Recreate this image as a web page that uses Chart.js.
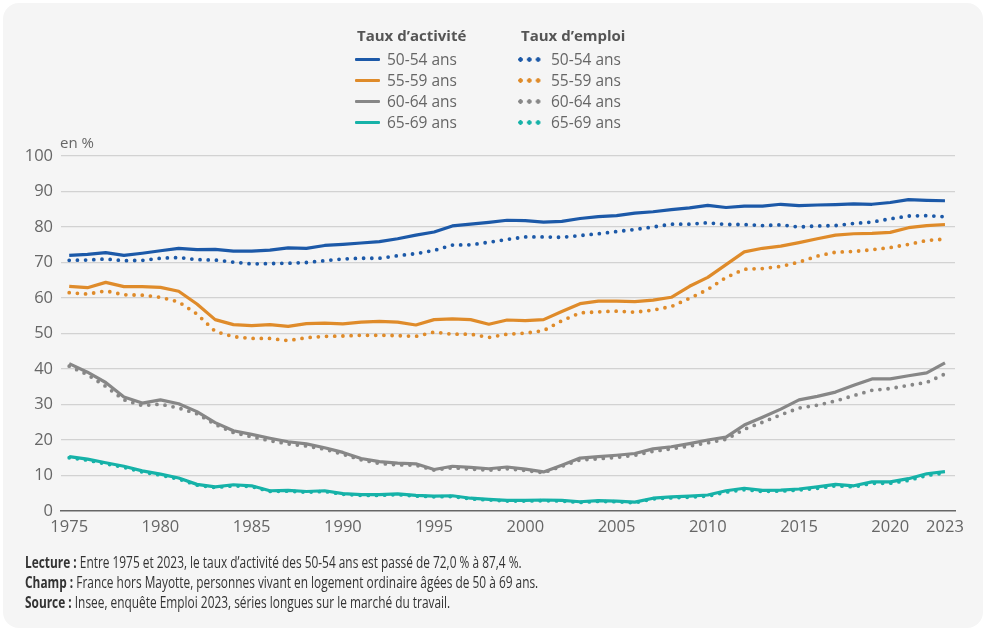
<!DOCTYPE html>
<html lang="fr">
<head>
<meta charset="utf-8">
<script src="https://cdn.jsdelivr.net/npm/chart.js@4"></script>
<style>
    html, body { margin: 0; padding: 0; background: #fff; }
    body { width: 986px; height: 631px; position: relative; overflow: hidden; font-family: "Open Sans", sans-serif; }
    .card { position: absolute; left: 3px; top: 3px; width: 980px; height: 625px; background: #f5f5f5; border-radius: 16px; }
    #chart { position: absolute; left: 0; top: 0; }
    .lg-head { position: absolute; font-weight: 700; color: #555; font-size: 15px; line-height: 20px; }
    .lg-row { position: absolute; color: #666; font-size: 15.5px; line-height: 20px; white-space: nowrap; }
    .lg-mark { position: absolute; height: 3.5px; width: 25px; border-radius: 1px; }
    .lg-dots { position: absolute; height: 5px; width: 24px; background-size: 8.8px 5px; background-repeat: repeat-x; }
    .unit { position: absolute; left: 60px; top: 132px; font-size: 15px; color: #666; line-height: 20px; }
    .notes { position: absolute; left: 25px; top: 552px; font-size: 16.5px; color: #333; line-height: 20px; white-space: nowrap; transform: scaleX(0.72); transform-origin: left top; }
    .notes b { font-weight: 700; }
</style>
</head>
<body>
<div class="card"></div>
<canvas id="chart" width="986" height="631"></canvas>
<div id="legend"></div>
<div class="unit">en %</div>
<div class="notes">
    <div><b>Lecture :</b> Entre 1975 et 2023, le taux d’activité des 50-54 ans est passé de 72,0 % à 87,4 %.</div>
    <div><b>Champ :</b> France hors Mayotte, personnes vivant en logement ordinaire âgées de 50 à 69 ans.</div>
    <div><b>Source :</b> Insee, enquête Emploi 2023, séries longues sur le marché du travail.</div>
</div>
<script>
const years = [1975, 1976, 1977, 1978, 1979, 1980, 1981, 1982, 1983, 1984, 1985, 1986, 1987, 1988, 1989, 1990,
    1991, 1992, 1993, 1994, 1995, 1996, 1997, 1998, 1999, 2000, 2001, 2002, 2003, 2004, 2005, 2006, 2007,
    2008, 2009, 2010, 2011, 2012, 2013, 2014, 2015, 2016, 2017, 2018, 2019, 2020, 2021, 2022, 2023];
const xTicks = [1975, 1980, 1985, 1990, 1995, 2000, 2005, 2010, 2015, 2020, 2023];
const ageGroups = ['50-54 ans', '55-59 ans', '60-64 ans', '65-69 ans'];

// Taux d'activité
const actif5054 = [72.0, 72.3, 72.8, 72.0, 72.6, 73.3, 74.0, 73.6, 73.7, 73.2, 73.2, 73.5, 74.1, 74.0, 74.8, 75.1,
    75.5, 75.9, 76.7, 77.7, 78.6, 80.3, 80.8, 81.3, 81.9, 81.8, 81.4, 81.6, 82.4, 82.9, 83.2, 83.9, 84.3,
    84.9, 85.4, 86.1, 85.5, 85.9, 85.9, 86.4, 86.0, 86.2, 86.3, 86.5, 86.4, 86.9, 87.7, 87.5, 87.4];
const actif5559 = [63.3, 62.9, 64.4, 63.2, 63.2, 63.0, 61.9, 58.3, 53.9, 52.5, 52.2, 52.5, 52.0, 52.8, 52.9, 52.7,
    53.2, 53.4, 53.2, 52.4, 53.9, 54.1, 53.9, 52.6, 53.8, 53.6, 53.9, 56.2, 58.4, 59.1, 59.1, 59.0, 59.4,
    60.2, 63.3, 65.8, 69.4, 73.0, 74.0, 74.6, 75.6, 76.7, 77.7, 78.1, 78.2, 78.5, 79.8, 80.4, 80.7];
const actif6064 = [41.5, 39.1, 36.2, 32.1, 30.4, 31.3, 30.2, 28.0, 24.9, 22.6, 21.6, 20.5, 19.5, 18.9, 17.8, 16.5,
    14.8, 13.9, 13.5, 13.3, 11.7, 12.6, 12.3, 11.9, 12.4, 11.8, 11.0, 12.9, 14.9, 15.3, 15.7, 16.2, 17.5,
    18.1, 19.0, 20.0, 20.8, 24.2, 26.4, 28.7, 31.3, 32.3, 33.5, 35.4, 37.2, 37.2, 38.1, 38.9, 41.7];
const actif6569 = [15.3, 14.6, 13.6, 12.6, 11.3, 10.4, 9.3, 7.5, 6.8, 7.4, 7.1, 5.7, 5.8, 5.5, 5.7, 4.9,
    4.6, 4.6, 4.8, 4.4, 4.2, 4.3, 3.6, 3.3, 3.0, 3.0, 3.1, 3.0, 2.6, 2.9, 2.8, 2.5, 3.6,
    4.0, 4.2, 4.5, 5.7, 6.4, 5.8, 5.9, 6.2, 6.8, 7.5, 7.1, 8.2, 8.2, 9.1, 10.5, 11.1];

// Taux d'emploi
const emploi5054 = [70.6, 70.7, 71.0, 70.5, 70.6, 71.2, 71.4, 70.8, 70.7, 70.1, 69.6, 69.7, 69.8, 70.0, 70.5, 71.0,
    71.2, 71.2, 71.9, 72.5, 73.4, 74.9, 75.0, 75.7, 76.5, 77.2, 77.2, 77.1, 77.6, 78.1, 78.7, 79.3, 80.0,
    80.8, 80.8, 81.2, 80.7, 80.7, 80.4, 80.6, 80.0, 80.3, 80.4, 81.0, 81.4, 82.3, 83.1, 83.2, 82.9];
const emploi5559 = [61.5, 61.1, 62.0, 60.9, 60.8, 60.2, 58.9, 55.5, 50.6, 49.1, 48.6, 48.6, 48.0, 48.8, 49.2, 49.3,
    49.5, 49.5, 49.4, 49.2, 50.4, 49.8, 49.8, 48.9, 49.8, 50.1, 50.8, 53.6, 55.8, 56.1, 56.3, 56.0, 56.6,
    57.6, 59.9, 62.4, 65.8, 68.1, 68.3, 68.9, 70.1, 71.8, 72.9, 73.1, 73.6, 74.2, 75.1, 76.2, 76.6];
const emploi6064 = [40.8, 38.4, 35.1, 31.3, 29.7, 30.1, 29.0, 27.4, 24.4, 22.1, 20.9, 19.8, 18.9, 18.3, 17.4, 16.0,
    14.4, 13.4, 13.0, 12.9, 11.5, 12.2, 11.8, 11.5, 11.9, 11.4, 10.8, 12.6, 14.4, 14.7, 15.1, 15.7, 16.8,
    17.5, 18.3, 19.2, 20.2, 23.0, 25.0, 27.1, 29.0, 29.8, 31.0, 32.5, 34.0, 34.5, 35.4, 36.2, 38.6];
const emploi6569 = [15.0, 14.3, 13.3, 12.3, 11.0, 10.1, 9.0, 7.3, 6.6, 7.1, 6.9, 5.5, 5.6, 5.3, 5.5, 4.7,
    4.4, 4.4, 4.6, 4.2, 4.0, 4.1, 3.4, 3.1, 2.8, 2.8, 2.9, 2.8, 2.4, 2.7, 2.6, 2.3, 3.4,
    3.7, 3.9, 4.2, 5.3, 6.0, 5.5, 5.6, 5.9, 6.4, 7.1, 6.8, 7.8, 7.8, 8.6, 10.0, 10.7];

const colors = ['#1c59a8', '#df8b2a', '#878787', '#16b2a8'];

const toPoints = (values) => values.map((v, i) => ({ x: years[i], y: v }));

const actifSeries = [actif5054, actif5559, actif6064, actif6569];
const emploiSeries = [emploi5054, emploi5559, emploi6064, emploi6569];

const datasets = [
    ...actifSeries.map((s, i) => ({
        label: `Taux d’activité ${ageGroups[i]}`,
        data: toPoints(s),
        borderColor: colors[i],
        borderWidth: 3.2,
        borderJoinStyle: 'round',
        order: 2
    })),
    ...emploiSeries.map((s, i) => ({
        label: `Taux d’emploi ${ageGroups[i]}`,
        data: toPoints(s),
        borderColor: colors[i],
        borderWidth: 3.8,
        borderDash: [0, 8.2],
        borderCapStyle: 'round',
        order: 1
    }))
].map(ds => ({ ...ds, pointRadius: 0, tension: 0, fill: false }));

// HTML legend: two columns, rows 21px apart
const rowY = [49, 70, 91, 112];
const buildLegend = () => {
    let html = '';
    html += `<div class="lg-head" style="left:357px;top:25px">Taux d’activité</div>`;
    html += `<div class="lg-head" style="left:521px;top:25px">Taux d’emploi</div>`;
    ageGroups.forEach((g, i) => {
        const y = rowY[i];
        html += `<div class="lg-mark" style="left:355px;top:${y + 8.5}px;background:${colors[i]}"></div>`;
        html += `<div class="lg-row" style="left:387px;top:${y}px">${g}</div>`;
        html += `<div class="lg-dots" style="left:517.5px;top:${y + 7.5}px;background-image:radial-gradient(circle at 2.5px 2.5px, ${colors[i]} 2px, transparent 2.5px)"></div>`;
        html += `<div class="lg-row" style="left:551px;top:${y}px">${g}</div>`;
    });
    document.getElementById('legend').innerHTML = html;
};
buildLegend();

new Chart(document.getElementById('chart').getContext('2d'), {
    type: 'line',
    data: { datasets },
    options: {
        responsive: false,
        animation: false,
        layout: { padding: { top: 156, right: 31, left: 0, bottom: 0 } },
        plugins: { legend: { display: false }, tooltip: { enabled: false } },
        scales: {
            x: {
                type: 'linear',
                min: 1974.55,
                max: 2023.55,
                afterBuildTicks: (scale) => { scale.ticks = xTicks.map(v => ({ value: v })); },
                afterFit: (scale) => { scale.height = 120; },
                grid: { display: false, drawTicks: false },
                border: { display: true, color: '#666', width: 1.5 },
                ticks: {
                    color: '#666',
                    font: { family: 'Open Sans', size: 16.5 },
                    padding: 6,
                    maxRotation: 0,
                    autoSkip: false,
                    callback: (v) => String(v)
                }
            },
            y: {
                min: 0,
                max: 100,
                afterFit: (scale) => { scale.width = 61; },
                grid: { color: (ctx) => ctx.tick.value === 0 ? 'rgba(0,0,0,0)' : '#d2d2d2', lineWidth: 1.2, drawTicks: false },
                border: { display: false },
                ticks: {
                    stepSize: 10,
                    color: '#666',
                    font: { family: 'Open Sans', size: 16.5 },
                    padding: 8
                }
            }
        }
    }
});
</script>
</body>
</html>
